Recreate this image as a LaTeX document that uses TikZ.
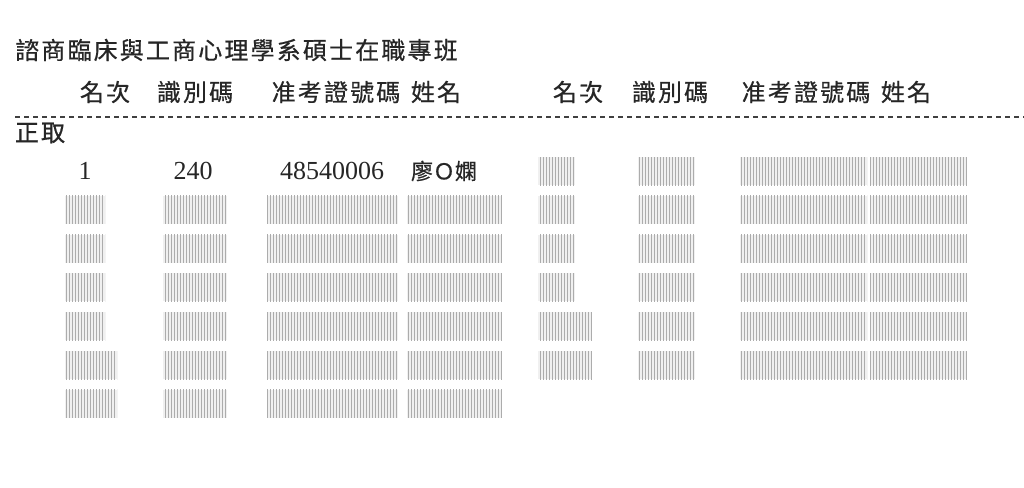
\documentclass[tikz,border=0pt]{standalone}
\usepackage{fontspec}
\setmainfont{Liberation Serif}
\newfontfamily\cjk[LetterSpace=9, FakeBold=0.6]{Noto Sans CJK TC}
\newfontfamily\cjkname[FakeBold=0.6]{Noto Sans CJK TC}
\usetikzlibrary{patterns}
\begin{document}
\begin{tikzpicture}[x=1pt,y=-1pt,
  ink/.style={text=black!85, inner sep=0pt},
  cjktext/.style={ink, font=\cjk\fontsize{24}{24}\selectfont},
  nametext/.style={ink, font=\cjkname\fontsize{22}{22}\selectfont},
  numtext/.style={ink, font=\fontsize{26}{26}\selectfont},
  blur/.style={minimum height=28pt, inner sep=0pt, anchor=west,
    preaction={fill=gray!12}, pattern=vertical lines, pattern color=gray!65},
  rule/.style={draw=black!75, line width=1.2pt, dash pattern=on 5pt off 4pt}
]
\useasboundingbox (0,0) rectangle (1024,487);
\fill[white] (0,0) rectangle (1024,487);

% title
\node[cjktext, anchor=west] (title) at (15,50) {諮商臨床與工商心理學系碩士在職專班};

% headers
\node[cjktext] (h1) at (105,92) {名次};
\node[cjktext] (h2) at (195,92) {識別碼};
\node[cjktext] (h3) at (336,92) {准考證號碼};
\node[cjktext] (h4) at (436,92) {姓名};
\node[cjktext] (k1) at (578,92) {名次};
\node[cjktext] (k2) at (670,92) {識別碼};
\node[cjktext] (k3) at (806,92) {准考證號碼};
\node[cjktext] (k4) at (906,92) {姓名};

% dashed rule
\coordinate (dl) at (15,117);
\coordinate (dr) at (1024,117);
\draw[rule] (dl) -- (dr);

\node[cjktext] (zq) at (40,133) {正取};

% first row
\node[numtext] (n1) at (85,171) {1};
\node[numtext] (n2) at (193,171) {240};
\node[numtext] (n3) at (332,171) {48540006};
\node[nametext] (n4) at (444,171) {廖Ｏ嫻};

% blurred entries, left half
\foreach \yy/\w [count=\i] in {209.8/40, 248.6/40, 287.4/40, 326.2/40, 365/52, 403.8/52} {
  \node[blur, minimum width=\w pt] (La\i) at (65,\yy) {};
  \node[blur, minimum width=64pt]  (Lb\i) at (163,\yy) {};
  \node[blur, minimum width=131pt] (Lc\i) at (267,\yy) {};
  \node[blur, minimum width=95pt]  (Ld\i) at (407,\yy) {};
}
% blurred entries, right half
\foreach \yy/\w [count=\i] in {171/37, 209.8/37, 248.6/37, 287.4/37, 326.2/54, 365/54} {
  \node[blur, minimum width=\w pt] (Ra\i) at (538,\yy) {};
  \node[blur, minimum width=57pt]  (Rb\i) at (638,\yy) {};
  \node[blur, minimum width=127pt] (Rc\i) at (740,\yy) {};
  \node[blur, minimum width=97pt]  (Rd\i) at (870,\yy) {};
}
\end{tikzpicture}
\end{document}
